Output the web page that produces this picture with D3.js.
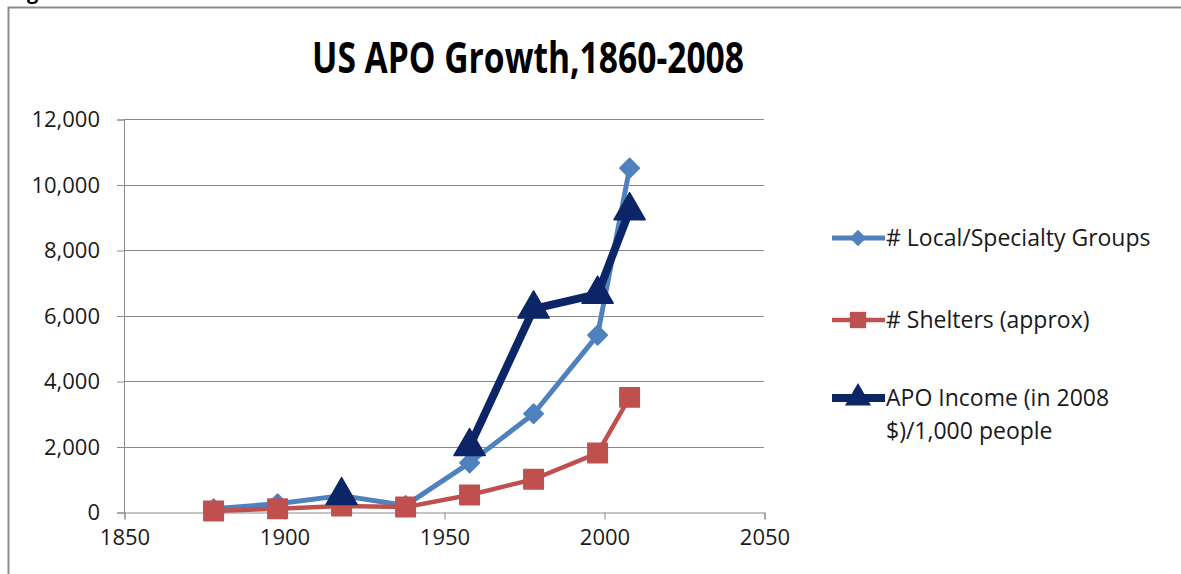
<!DOCTYPE html>
<html>
<head>
<meta charset="utf-8">
<script src="https://cdn.jsdelivr.net/npm/d3@7"></script>
<style>
  body { margin: 0; background: #fff; }
  svg { display: block; font-family: "Open Sans", "Noto Sans", sans-serif; }
</style>
</head>
<body>
<div id="container"></div>
<script>
// values
let years = [1878, 1898, 1918, 1938, 1958, 1978, 1998, 2008]
let localGroups = [100, 250, 500, 200, 1500, 3000, 5400, 10500]
let shelters = [30, 100, 180, 150, 520, 1000, 1800, 3500]
let apoIncome = [null, null, 500, null, 2000, 6200, 6650, 9200]

let xTicks = [1850, 1900, 1950, 2000, 2050]
let yTicks = [0, 2000, 4000, 6000, 8000, 10000, 12000]

let seriesNames = ["# Local/Specialty Groups", "# Shelters (approx)", "APO Income (in 2008 $)/1,000 people"]

function drawChart() {
    let width = 1181
    let height = 574
    let margin = {top: 119, right: 417, bottom: 62, left: 124}

    let svg = d3.select("#container")
        .append("svg")
        .attr("width", width)
        .attr("height", height)

    // outer chart frame (only left and top edges are in the picture)
    svg.append("rect")
        .attr("x", 8.5).attr("y", 7.5)
        .attr("width", width + 20).attr("height", height + 20)
        .attr("fill", "none")
        .attr("stroke", "#8c8c8c")
        .attr("stroke-width", 2)

    // clipped bit of text above the frame
    svg.append("text")
        .attr("x", 27).attr("y", -1)
        .attr("font-weight", "bold")
        .attr("font-size", 20)
        .text("g")

    let x = d3.scaleLinear()
        .domain([1850, 2050])
        .range([margin.left, width - margin.right])

    let y = d3.scaleLinear()
        .domain([0, 12000])
        .range([height - margin.bottom, margin.top])

    svg.append("text")
        .attr("x", 528)
        .attr("y", 73)
        .attr("text-anchor", "middle")
        .attr("font-weight", "bold")
        .attr("font-size", 43)
        .attr("textLength", 432)
        .attr("lengthAdjust", "spacingAndGlyphs")
        .attr("fill", "#000")
        .text("US APO Growth,1860-2008")

    // gridlines
    svg.append("g")
        .selectAll("line")
        .data(yTicks.slice(1))
        .join("line")
            .attr("x1", x(1850))
            .attr("x2", x(2050))
            .attr("y1", d => Math.round(y(d)) + 0.5)
            .attr("y2", d => Math.round(y(d)) + 0.5)
            .attr("stroke", "#8a8a8a")
            .attr("stroke-width", 1)

    let yAxis = svg.append("g")
        .attr("transform", `translate(${x(1850)},0.5)`)
        .call(d3.axisLeft(y).tickValues(yTicks).tickSize(7).tickPadding(17)
            .tickFormat(d3.format(",")))
    yAxis.select(".domain").attr("stroke", "#8a8a8a")
    yAxis.selectAll(".tick line").attr("stroke", "#8a8a8a")
    yAxis.selectAll("text")
        .attr("font-size", 22)
        .attr("fill", "#1a1a1a")
        .attr("font-family", "Open Sans")

    let xAxis = svg.append("g")
        .attr("transform", `translate(0.5,${Math.round(y(0)) + 0.5})`)
        .call(d3.axisBottom(x).tickValues(xTicks).tickSize(7).tickPadding(10)
            .tickFormat(d3.format("d")))
    xAxis.select(".domain").attr("stroke", "#8a8a8a")
    xAxis.selectAll(".tick line").attr("stroke", "#8a8a8a")
    xAxis.selectAll("text")
        .attr("font-size", 22)
        .attr("fill", "#1a1a1a")
        .attr("font-family", "Open Sans")

    let series = [
        {name: seriesNames[0], values: localGroups, color: "#4f81bd", width: 5, symbol: d3.symbolSquare, size: 190, rotate: 45},
        {name: seriesNames[1], values: shelters, color: "#c0504d", width: 4.5, symbol: d3.symbolSquare, size: 380, rotate: 0},
        {name: seriesNames[2], values: apoIncome, color: "#0b2566", width: 8, symbol: d3.symbolTriangle, size: 420, rotate: 0}
    ]

    let line = d3.line()
        .defined(d => d.v != null)
        .x(d => x(d.year))
        .y(d => y(d.v))

    series.forEach(s => {
        let pts = years.map((yr, i) => ({year: yr, v: s.values[i]}))
        let g = svg.append("g")
        g.append("path")
            .datum(pts)
            .attr("d", line)
            .attr("fill", "none")
            .attr("stroke", s.color)
            .attr("stroke-width", s.width)
            .attr("stroke-linejoin", "round")
        g.selectAll("path.marker")
            .data(pts.filter(d => d.v != null))
            .join("path")
                .attr("class", "marker")
                .attr("d", d3.symbol(s.symbol, s.size))
                .attr("transform", d => `translate(${x(d.year)},${y(d.v)}) rotate(${s.rotate})`)
                .attr("fill", s.color)
                .attr("stroke", s.color)
                .attr("stroke-width", 1.5)
                .attr("stroke-linejoin", "round")
    })

    // legend
    let legend = svg.append("g")
    let legendY = [238, 320, 398]
    series.forEach((s, i) => {
        let ly = legendY[i]
        legend.append("line")
            .attr("x1", 832).attr("x2", 885)
            .attr("y1", ly).attr("y2", ly)
            .attr("stroke", s.color)
            .attr("stroke-width", s.width)
        legend.append("path")
            .attr("d", d3.symbol(s.symbol, s.size * 0.7))
            .attr("transform", `translate(858,${ly}) rotate(${s.rotate})`)
            .attr("fill", s.color)
        let t = legend.append("text")
            .attr("x", 886)
            .attr("y", ly + 8)
            .attr("font-size", 23)
            .attr("fill", "#1a1a1a")
        if (i == 2) {
            t.append("tspan").attr("x", 886).text("APO Income (in 2008")
            t.append("tspan").attr("x", 886).attr("dy", 33).text("$)/1,000 people")
        } else {
            t.text(s.name)
        }
    })

    return svg.node()
}

drawChart()
</script>
</body>
</html>
